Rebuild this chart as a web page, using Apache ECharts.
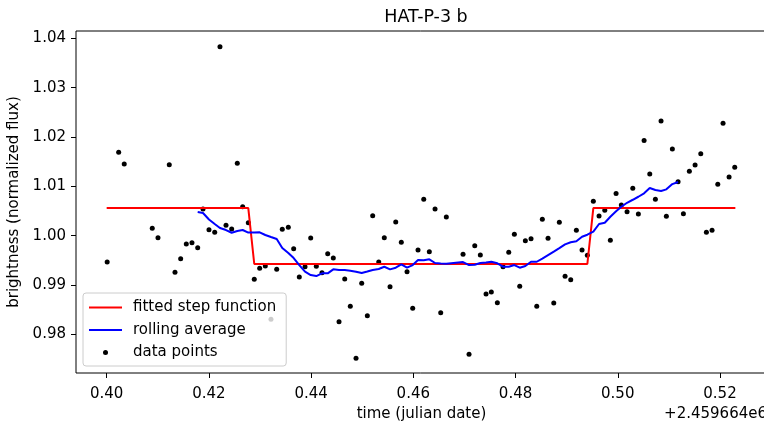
<!DOCTYPE html>
<html>
<head>
<meta charset="utf-8">
<title>HAT-P-3 b</title>
<script src="https://cdn.jsdelivr.net/npm/echarts@6/dist/echarts.min.js"></script>
<style>
  html, body { margin: 0; padding: 0; background: #fff; }
  #transitChart { width: 764px; height: 423px; }
</style>
</head>
<body>
<div id="transitChart"></div>
<script>
// time offset shown at the right of the x axis: +2.459664e6
const timeVals = [
  0.4001, 0.40235, 0.40344, 0.40892, 0.41004, 0.41225, 0.41337, 0.41448, 0.41558, 0.41669,
  0.41781, 0.41885, 0.42002, 0.42114, 0.42217, 0.42335, 0.42446, 0.42556, 0.42661, 0.42771,
  0.42888, 0.42994, 0.43104, 0.43215, 0.43327, 0.43436, 0.43554, 0.43659, 0.43769, 0.43881,
  0.43992, 0.44102, 0.44213, 0.44325, 0.44434, 0.44546, 0.44658, 0.44767, 0.44879, 0.4499,
  0.451, 0.45205, 0.45323, 0.45432, 0.45544, 0.45656, 0.45765, 0.45877, 0.45988, 0.46092,
  0.46204, 0.46313, 0.46425, 0.46536, 0.46646, 0.46973, 0.4709, 0.47202, 0.47311, 0.47423,
  0.47526, 0.47644, 0.47755, 0.47867, 0.47977, 0.48082, 0.48192, 0.48303, 0.48415, 0.48524,
  0.48636, 0.48748, 0.48857, 0.48969, 0.4908, 0.4919, 0.49301, 0.49405, 0.49522, 0.49634,
  0.49746, 0.49855, 0.49967, 0.5007, 0.50182, 0.50294, 0.50403, 0.50515, 0.50626, 0.50736,
  0.50847, 0.50951, 0.51068, 0.5118, 0.51284, 0.51401, 0.51513, 0.51624, 0.51734, 0.51845,
  0.51957, 0.5206, 0.52178, 0.52289
]
const fluxVals = [
  0.99465, 1.01689, 1.01452, 1.00148, 0.99958, 1.01438, 0.99256, 0.99532, 0.9983, 0.99856,
  0.99755, 1.0054, 1.0012, 1.00067, 1.0383, 1.00209, 1.00134, 1.01466, 1.00586, 1.00262,
  0.99115, 0.99338, 0.99384, 0.98304, 0.99317, 1.00128, 1.00169, 0.99735, 0.99161, 0.9937,
  0.99952, 0.99378, 0.99248, 0.99633, 0.99546, 0.98255, 0.99121, 0.98567, 0.97513, 0.99033,
  0.98377, 1.00404, 0.99465, 0.99958, 0.98965, 1.00276, 0.99865, 0.99269, 0.98527, 0.99709,
  1.00736, 0.99674, 1.0054, 0.98437, 1.00377, 0.99621, 0.97594, 0.99796, 0.99607, 0.98817,
  0.98857, 0.9864, 0.9937, 0.99662, 1.00027, 0.98973, 0.99897, 0.99938, 0.98567, 1.00331,
  0.99946, 0.98634, 1.0027, 0.99175, 0.99106, 1.00108, 0.99709, 0.99601, 1.00696, 1.00398,
  1.00513, 0.99905, 1.00854, 1.00621, 1.00485, 1.00959, 1.00438, 1.01932, 1.01249, 1.00736,
  1.02324, 1.00392, 1.01756, 1.01093, 1.00444, 1.01304, 1.01432, 1.01661, 1.00067, 1.00108,
  1.0104, 1.02277, 1.01188, 1.01385
]

// rolling average, defined from the 11th to the 94th sample
const rollingVals = [
  1.00479, 1.00459, 1.00327, 1.00236, 1.00154, 1.00114, 1.00059, 1.00094, 1.00114, 1.00063,
  1.00063, 1.00067, 1.00013, 0.99972, 0.99931, 0.99749, 0.99648, 0.99546, 0.99404, 0.99269,
  0.99202, 0.99181, 0.99236, 0.99236, 0.99317, 0.99303, 0.99303, 0.99289, 0.99269, 0.99242,
  0.99273, 0.99303, 0.99323, 0.9937, 0.99317, 0.9935, 0.99419, 0.9935, 0.99404, 0.99506,
  0.995, 0.9952, 0.99445, 0.99435, 0.99431, 0.99465, 0.99404, 0.9941, 0.99445, 0.99455,
  0.99471, 0.99439, 0.9937, 0.9937, 0.99404, 0.9935, 0.99384, 0.99471, 0.99471, 0.99536,
  0.99607, 0.99678, 0.99749, 0.99824, 0.99865, 0.99885, 0.99978, 1.00019, 1.0008, 1.00236,
  1.00262, 1.00383, 1.00493, 1.00586, 1.00667, 1.00728, 1.00789, 1.00858, 1.00965, 1.00925,
  1.00905, 1.00939, 1.01046, 1.01087
]
const rollingStart = 10

// fitted step function
const stepX = [0.40, 0.42771, 0.42888, 0.49405, 0.49522, 0.52301]
const stepY = [1.0056, 1.0056, 0.99425, 0.99425, 1.0056, 1.0056]

const xTicks = [0.40, 0.42, 0.44, 0.46, 0.48, 0.50, 0.52]
const yTicks = [0.98, 0.99, 1.00, 1.01, 1.02, 1.03, 1.04]

const font = 'DejaVu Sans'
const myChart = echarts.init(document.getElementById('transitChart'))

const scatterData = timeVals.map((t, i) => [t, fluxVals[i]])
const rollingData = rollingVals.map((v, i) => [timeVals[rollingStart + i], v])
const stepData = stepX.map((t, i) => [t, stepY[i]])

// plain line icon for the legend, no marker
const lineIcon = 'path://M0,0H33V2H0Z'

const option = {
  animation: false,
  backgroundColor: '#fff',
  title: {
    text: 'HAT-P-3 b',
    left: 421,
    top: 3,
    textAlign: 'center',
    textStyle: { fontFamily: font, fontSize: 17.5, fontWeight: 'normal', color: '#000' }
  },
  grid: {
    left: 76,
    top: 31,
    width: 691,
    height: 342,
    outerBoundsMode: 'none',
    containLabel: false,
    show: true,
    borderColor: '#000',
    borderWidth: 1,
    backgroundColor: 'transparent'
  },
  legend: {
    orient: 'vertical',
    left: 83,
    top: 293,
    padding: [6, 10, 5, 6],
    itemWidth: 33,
    itemHeight: 5,
    itemGap: 5.5,
    backgroundColor: 'rgba(255,255,255,0.8)',
    borderColor: '#cccccc',
    borderWidth: 1,
    borderRadius: 3,
    textStyle: { fontFamily: font, fontSize: 15, lineHeight: 17, color: '#000', padding: [0, 0, 0, 6] },
    data: [
      { name: 'fitted step function', icon: lineIcon },
      { name: 'rolling average', icon: lineIcon },
      { name: 'data points', icon: 'circle' }
    ]
  },
  xAxis: {
    type: 'value',
    min: 0.394,
    max: 0.5292,
    name: 'time (julian date)',
    nameLocation: 'middle',
    nameGap: 33,
    nameTextStyle: { fontFamily: font, fontSize: 15, color: '#000' },
    axisLine: { show: false },
    splitLine: { show: false },
    axisTick: {
      show: true,
      length: 5,
      customValues: xTicks,
      lineStyle: { color: '#000', width: 1 }
    },
    axisLabel: {
      customValues: xTicks,
      margin: 14,
      fontFamily: font,
      fontSize: 15,
      color: '#000',
      formatter: v => v.toFixed(2)
    }
  },
  yAxis: {
    type: 'value',
    min: 0.97215,
    max: 1.0415,
    name: 'brightness (normalized flux)',
    nameLocation: 'middle',
    nameGap: 48,
    nameTextStyle: { fontFamily: font, fontSize: 15, color: '#000' },
    axisLine: { show: false },
    splitLine: { show: false },
    axisTick: {
      show: true,
      length: 5,
      customValues: yTicks,
      lineStyle: { color: '#000', width: 1 }
    },
    axisLabel: {
      customValues: yTicks,
      margin: 10,
      fontFamily: font,
      fontSize: 15,
      color: '#000',
      formatter: v => v.toFixed(2)
    }
  },
  graphic: [{
    type: 'text',
    style: {
      x: 767,
      y: 414,
      text: '+2.459664e6',
      align: 'right',
      verticalAlign: 'middle',
      fontFamily: font,
      fontSize: 15,
      fill: '#000'
    }
  }],
  series: [
    {
      name: 'fitted step function',
      type: 'line',
      data: stepData,
      symbol: 'none',
      lineStyle: { color: '#ff0000', width: 2 },
      itemStyle: { color: '#ff0000' }
    },
    {
      name: 'rolling average',
      type: 'line',
      data: rollingData,
      symbol: 'none',
      lineStyle: { color: '#0000ff', width: 2 },
      itemStyle: { color: '#0000ff' }
    },
    {
      name: 'data points',
      type: 'scatter',
      data: scatterData,
      symbolSize: 5,
      itemStyle: { color: '#000', opacity: 1 }
    }
  ]
}
myChart.setOption(option)
</script>
</body>
</html>
